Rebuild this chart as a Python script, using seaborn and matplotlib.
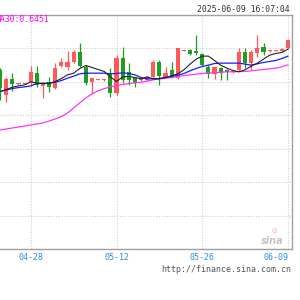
import numpy as np
import pandas as pd
import seaborn as sns
import matplotlib
matplotlib.use("Agg")
import matplotlib.pyplot as plt

# daily k-line, 04-23 .. 06-09
dates = pd.date_range("2025-04-23", "2025-06-09", freq="D").strftime("%m-%d").tolist()

open_ = [0.6436, 0.6361, 0.6408, 0.6394, 0.6395, 0.6401, 0.6427, 0.6388, 0.6401, 0.6381,
         0.6448, 0.6444, 0.6459, 0.6490, 0.6445, 0.6401, 0.6407, 0.6406, 0.6427, 0.6366,
         0.6471, 0.6430, 0.6411, 0.6406, 0.6406, 0.6415, 0.6460, 0.6415, 0.6436, 0.6411,
         0.6492, 0.6495, 0.6492, 0.6482, 0.6444, 0.6423, 0.6441, 0.6434, 0.6430, 0.6436,
         0.6489, 0.6456, 0.6485, 0.6505, 0.6492, 0.6492, 0.6492, 0.6500]
close = [0.6382, 0.6408, 0.6393, 0.6396, 0.6397, 0.6430, 0.6391, 0.6395, 0.6384, 0.6441,
         0.6458, 0.6460, 0.6489, 0.6448, 0.6397, 0.6411, 0.6409, 0.6408, 0.6367, 0.6471,
         0.6406, 0.6406, 0.6396, 0.6410, 0.6415, 0.6460, 0.6418, 0.6427, 0.6418, 0.6500,
         0.6494, 0.6482, 0.6485, 0.6450, 0.6423, 0.6444, 0.6427, 0.6430, 0.6433, 0.6489,
         0.6456, 0.6489, 0.6500, 0.6490, 0.6494, 0.6494, 0.6498, 0.6525]
high = [0.6442, 0.6416, 0.6426, 0.6398, 0.6398, 0.6448, 0.6448, 0.6397, 0.6416, 0.6456,
        0.6471, 0.6493, 0.6495, 0.6515, 0.6450, 0.6416, 0.6410, 0.6410, 0.6442, 0.6480,
        0.6505, 0.6456, 0.6416, 0.6415, 0.6419, 0.6465, 0.6465, 0.6445, 0.6459, 0.6501,
        0.6495, 0.6497, 0.6540, 0.6486, 0.6450, 0.6445, 0.6445, 0.6437, 0.6436, 0.6501,
        0.6501, 0.6495, 0.6540, 0.6516, 0.6495, 0.6495, 0.6500, 0.6527]
low = [0.6346, 0.6341, 0.6373, 0.6392, 0.6394, 0.6388, 0.6384, 0.6352, 0.6371, 0.6379,
       0.6443, 0.6436, 0.6456, 0.6445, 0.6391, 0.6366, 0.6406, 0.6404, 0.6355, 0.6361,
       0.6397, 0.6391, 0.6386, 0.6403, 0.6403, 0.6412, 0.6391, 0.6412, 0.6412, 0.6409,
       0.6491, 0.6480, 0.6480, 0.6448, 0.6412, 0.6409, 0.6406, 0.6406, 0.6427, 0.6433,
       0.6441, 0.6436, 0.6474, 0.6480, 0.6489, 0.6491, 0.6491, 0.6498]

ma5 = [0.6371, 0.6377, 0.6384, 0.6388, 0.6391, 0.6400, 0.6396, 0.6395, 0.6395, 0.6401,
       0.6410, 0.6421, 0.6426, 0.6440, 0.6449, 0.6443, 0.6437, 0.6431, 0.6415, 0.6401,
       0.6415, 0.6416, 0.6413, 0.6409, 0.6415, 0.6409, 0.6409, 0.6413, 0.6418, 0.6424,
       0.6436, 0.6453, 0.6468, 0.6477, 0.6477, 0.6464, 0.6450, 0.6441, 0.6434, 0.6430,
       0.6436, 0.6447, 0.6456, 0.6468, 0.6480, 0.6485, 0.6488, 0.6498]
ma10 = [0.6371, 0.6376, 0.6380, 0.6383, 0.6385, 0.6388, 0.6395, 0.6396, 0.6396, 0.6399,
        0.6404, 0.6411, 0.6417, 0.6424, 0.6426, 0.6426, 0.6426, 0.6426, 0.6424, 0.6425,
        0.6427, 0.6425, 0.6421, 0.6413, 0.6409, 0.6409, 0.6410, 0.6413, 0.6416, 0.6420,
        0.6425, 0.6433, 0.6440, 0.6446, 0.6450, 0.6455, 0.6456, 0.6456, 0.6456, 0.6456,
        0.6453, 0.6450, 0.6454, 0.6458, 0.6461, 0.6464, 0.6470, 0.6477]
ma30 = [0.6256, 0.6259, 0.6262, 0.6265, 0.6268, 0.6271, 0.6274, 0.6277, 0.6283, 0.6289,
        0.6296, 0.6307, 0.6322, 0.6337, 0.6352, 0.6364, 0.6373, 0.6380, 0.6385, 0.6389,
        0.6392, 0.6395, 0.6397, 0.6399, 0.6402, 0.6406, 0.6409, 0.6411, 0.6413, 0.6416,
        0.6419, 0.6421, 0.6423, 0.6425, 0.6427, 0.6427, 0.6429, 0.6430, 0.6430, 0.6431,
        0.6431, 0.6433, 0.6435, 0.6437, 0.6439, 0.6441, 0.6445, 0.6451]

tick_dates = ["04-28", "05-12", "05-26", "06-09"]
grid_levels = [0.59, 0.60, 0.61, 0.62, 0.63, 0.64, 0.65, 0.66]
stamp = "2025-06-09 16:07:04"

df = pd.DataFrame({"date": dates, "open": open_, "close": close, "high": high, "low": low,
                   "ma5": ma5, "ma10": ma10, "ma30": ma30})
df["idx"] = np.arange(len(df))

sns.set_style("white")
plt.rcParams["font.family"] = ["DejaVu Sans Mono", "DejaVu Sans"]

UP = "#ff5a5a"
DOWN = "#1f9f1f"

fig = plt.figure(figsize=(3, 3), dpi=100)
ax = fig.add_axes([0.0, 0.17, 0.9723, 0.78])

# candles
up = df["close"] >= df["open"]
cols = np.where(up, UP, DOWN)
ax.vlines(df["idx"], df["low"], df["high"], colors=cols, linewidth=0.9, zorder=2)
body_lo = np.minimum(df["open"], df["close"])
body_h = np.maximum(np.abs(df["close"] - df["open"]), 0.0003)
ax.bar(df["idx"], body_h, bottom=body_lo, width=0.66, color=cols, linewidth=0, zorder=3)

# moving averages
sns.lineplot(data=df, x="idx", y="ma30", color="#ff33ff", linewidth=0.9, ax=ax, zorder=4)
sns.lineplot(data=df, x="idx", y="ma10", color="#1a1aff", linewidth=0.9, ax=ax, zorder=5)
sns.lineplot(data=df, x="idx", y="ma5", color="#222222", linewidth=0.8, ax=ax, zorder=6)

ax.set_xlim(-0.02, 47.6)
ax.set_ylim(grid_levels[0], grid_levels[-1])
tick_pos = [dates.index(d) for d in tick_dates]
ax.set_xticks(tick_pos)
ax.set_xticklabels(tick_dates, fontsize=6, color="#2a8fe6")
ax.get_xticklabels()[-1].set_horizontalalignment("right")
ax.set_yticks(grid_levels)
ax.set_yticklabels([])
ax.tick_params(length=0, pad=3)
ax.set_xlabel("")
ax.set_ylabel("")
ax.grid(True, linestyle=(0, (1, 1.5)), color="#cccccc", linewidth=0.8)
ax.set_axisbelow(True)
for s in ["top", "right", "bottom"]:
    ax.spines[s].set_color("#a0a0a0")
    ax.spines[s].set_linewidth(1.0)
ax.spines["left"].set_visible(False)

# header / footer texts
fig.text(290 / 300, 1 - 9.5 / 300, stamp, ha="right", va="center", fontsize=5.9, color="#333333")
fig.text(-4 / 300, 1 - 20 / 300, "MA30:0.6451", ha="left", va="center", fontsize=5.9, color="#ff00ff")
fig.text(291 / 300, 1 - 270 / 300, "http://finance.sina.com.cn", ha="right", va="center",
         fontsize=6, color="#555555")
# sina watermark
fig.text(284 / 300, 1 - 241 / 300, "sina", ha="right", va="center", fontsize=7,
         style="italic", weight="bold", color="#c4c4c4", family="DejaVu Sans")
fig.text(274 / 300, 1 - 231 / 300, "\u25ce", ha="center", va="center", fontsize=4.5,
         color="#f0a0a0", family="DejaVu Sans")

fig.savefig("out.png", dpi=100)
